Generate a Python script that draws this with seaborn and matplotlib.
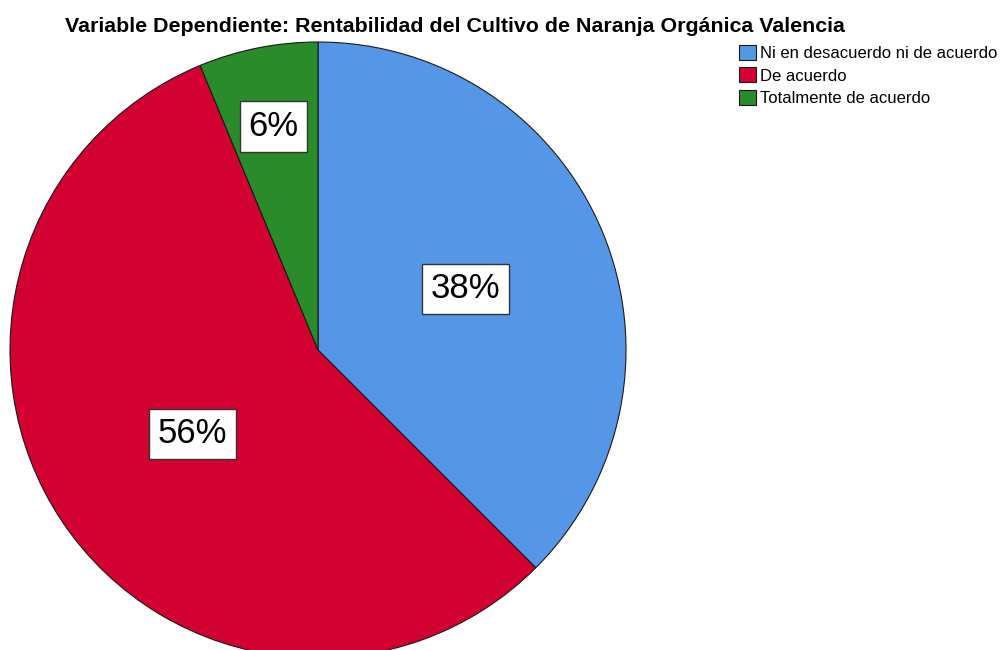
import matplotlib
matplotlib.use("Agg")
import matplotlib.pyplot as plt
import seaborn as sns
import numpy as np

titulo = "Variable Dependiente: Rentabilidad del Cultivo de Naranja Orgánica Valencia"
categorias = ["Ni en desacuerdo ni de acuerdo", "De acuerdo", "Totalmente de acuerdo"]
frecuencias = [6, 9, 1]
colores = ["#5596E6", "#D30032", "#2A8B2A"]

sns.set_style("white")
plt.rcParams["font.family"] = ["Liberation Sans", "DejaVu Sans"]
plt.rcParams["text.color"] = "black"

fig = plt.figure(figsize=(10.08, 6.5), dpi=100)
ax = fig.add_axes([10 / 1008, -8 / 650, 616 / 1008, 616 / 650])

wedges, _ = ax.pie(frecuencias, colors=colores, startangle=90, counterclock=False,
                   wedgeprops=dict(edgecolor="#1a1a1a", linewidth=0.8))
ax.set_xlim(-1, 1)
ax.set_ylim(-1, 1)
ax.set_aspect("equal")

# distancia de la etiqueta al centro, por sector
dist = [0.52, 0.49, 0.74]
total = sum(frecuencias)
for w, f, d in zip(wedges, frecuencias, dist):
    ang = np.deg2rad((w.theta1 + w.theta2) / 2)
    ax.text(d * np.cos(ang), d * np.sin(ang), f"{round(100 * f / total)}%",
            ha="center", va="center", fontsize=25, color="black",
            bbox=dict(boxstyle="square,pad=0.25", fc="white", ec="#333333", lw=1))

fig.text(65 / 1008, 1 - 26 / 650, titulo, ha="left", va="center",
         fontsize=15.4, fontweight="bold")

fig.legend(wedges, categorias, loc="upper left", bbox_to_anchor=(739 / 1008, 1 - 45 / 650),
           frameon=False, handlelength=1.0, handleheight=1.0, handletextpad=0.25,
           labelspacing=0.38, borderpad=0, borderaxespad=0, fontsize=12)

fig.savefig("out.png", dpi=100)
